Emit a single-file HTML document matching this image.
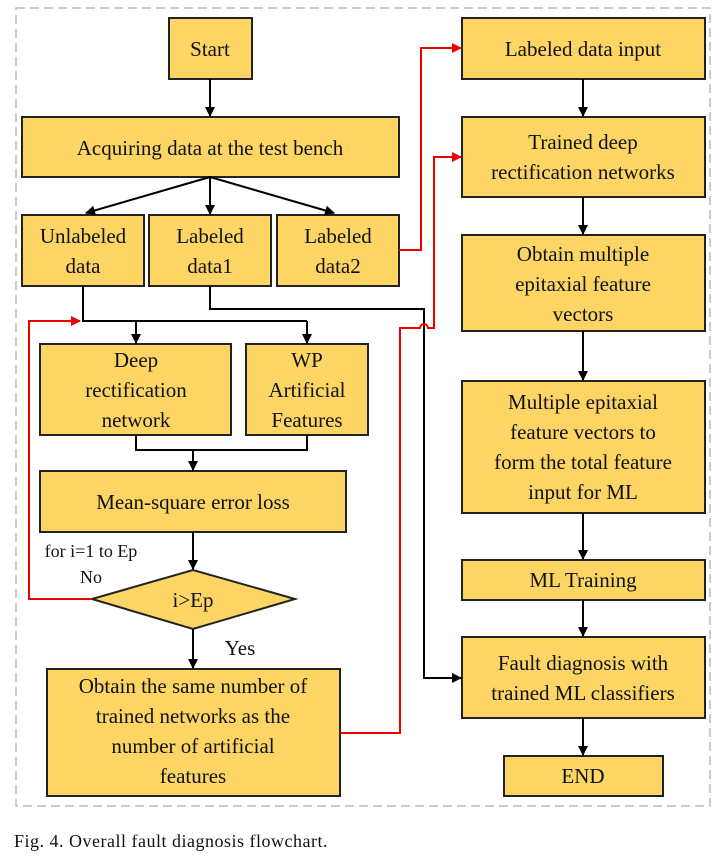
<!DOCTYPE html>
<html><head><style>body{margin:0;background:#fff}svg{display:block}</style></head><body>
<svg width="723" height="858" viewBox="0 0 723 858" xmlns="http://www.w3.org/2000/svg" font-family="Liberation Serif, serif" font-size="21" text-anchor="middle">
<defs>
<marker id="a" markerWidth="10" markerHeight="10" refX="9" refY="5" orient="auto" markerUnits="userSpaceOnUse"><path d="M0,0 L10,5 L0,10 z" fill="#000"/></marker>
<marker id="r" markerWidth="10" markerHeight="10" refX="9" refY="5" orient="auto" markerUnits="userSpaceOnUse"><path d="M0,0 L10,5 L0,10 z" fill="#e00"/></marker>
</defs>
<rect x="16" y="8" width="694" height="798" fill="none" stroke="#bbb" stroke-width="1.5" stroke-dasharray="9,5"/>
<g fill="#fcd565" stroke="#222" stroke-width="2">
<rect x="169" y="18" width="83" height="61"/>
<rect x="22" y="117" width="377" height="60"/>
<rect x="22" y="215" width="122" height="71"/>
<rect x="149" y="215" width="122" height="71"/>
<rect x="277" y="215" width="122" height="71"/>
<rect x="40" y="344" width="191" height="91"/>
<rect x="246" y="344" width="122" height="91"/>
<rect x="40" y="471" width="306" height="61"/>
<polygon points="92,599 193,570 295,599 193,629"/>
<rect x="47" y="669" width="293" height="127"/>
<rect x="462" y="18" width="243" height="61"/>
<rect x="462" y="117" width="243" height="80"/>
<rect x="462" y="235" width="243" height="96"/>
<rect x="462" y="381" width="243" height="132"/>
<rect x="462" y="560" width="243" height="40"/>
<rect x="462" y="637" width="243" height="81"/>
<rect x="504" y="756" width="159" height="40"/>
</g>
<g stroke="#000" stroke-width="2" fill="none">
<line x1="210" y1="79" x2="210" y2="116" marker-end="url(#a)"/>
<line x1="210" y1="177" x2="86" y2="213" marker-end="url(#a)"/>
<line x1="210" y1="177" x2="210" y2="214" marker-end="url(#a)"/>
<line x1="210" y1="177" x2="334" y2="213" marker-end="url(#a)"/>
<polyline points="83,286 83,321 307,321"/>
<line x1="136" y1="321" x2="136" y2="343" marker-end="url(#a)"/>
<line x1="307" y1="321" x2="307" y2="343" marker-end="url(#a)"/>
<polyline points="136,435 136,450 307,450 307,435"/>
<line x1="193" y1="450" x2="193" y2="470" marker-end="url(#a)"/>
<line x1="193" y1="532" x2="193" y2="569" marker-end="url(#a)"/>
<line x1="193" y1="629" x2="193" y2="668" marker-end="url(#a)"/>
<polyline points="210,286 210,309 424,309 424,678 461,678" marker-end="url(#a)"/>
<line x1="583" y1="79" x2="583" y2="116" marker-end="url(#a)"/>
<line x1="583" y1="197" x2="583" y2="234" marker-end="url(#a)"/>
<line x1="583" y1="331" x2="583" y2="380" marker-end="url(#a)"/>
<line x1="583" y1="513" x2="583" y2="559" marker-end="url(#a)"/>
<line x1="583" y1="600" x2="583" y2="636" marker-end="url(#a)"/>
<line x1="583" y1="718" x2="583" y2="755" marker-end="url(#a)"/>
</g>
<g stroke="#e00" stroke-width="2" fill="none">
<polyline points="92,599 29,599 29,321 80,321" marker-end="url(#r)"/>
<polyline points="399,250 421,250 421,48 461,48" marker-end="url(#r)"/>
<path d="M340,733 L400,733 L400,328 L420,328 A4,4 0 0 1 428,328 L434,328 L434,157 L461,157" marker-end="url(#r)"/>
</g>
<g fill="#111">
<text x="210" y="56">Start</text>
<text x="210" y="155">Acquiring data at the test bench</text>
<text x="83" y="243">Unlabeled</text><text x="83" y="273">data</text>
<text x="210" y="243">Labeled</text><text x="210" y="273">data1</text>
<text x="338" y="243">Labeled</text><text x="338" y="273">data2</text>
<text x="136" y="367">Deep</text><text x="136" y="397">rectification</text><text x="136" y="427">network</text>
<text x="307" y="367">WP</text><text x="307" y="397">Artificial</text><text x="307" y="427">Features</text>
<text x="193" y="509">Mean-square error loss</text>
<text x="193" y="607">i&gt;Ep</text>
<text x="240" y="655">Yes</text>
<text x="91" y="557" font-size="18">for i=1 to Ep</text>
<text x="91" y="583" font-size="18">No</text>
<text x="193" y="693">Obtain the same number of</text>
<text x="193" y="723">trained networks as the</text>
<text x="193" y="753">number of artificial</text>
<text x="193" y="783">features</text>
<text x="583" y="56">Labeled data input</text>
<text x="583" y="149">Trained deep</text><text x="583" y="179">rectification networks</text>
<text x="583" y="261">Obtain multiple</text><text x="583" y="291">epitaxial feature</text><text x="583" y="321">vectors</text>
<text x="583" y="409">Multiple epitaxial</text><text x="583" y="439">feature vectors  to</text><text x="583" y="469">form the total feature</text><text x="583" y="499">input for ML</text>
<text x="583" y="587">ML Training</text>
<text x="583" y="670">Fault diagnosis with</text><text x="583" y="700">trained ML classifiers</text>
<text x="583" y="783">END</text>
<text x="14" y="847" text-anchor="start" font-size="18" letter-spacing="0.5">Fig. 4.    Overall fault diagnosis flowchart.</text>
</g>
</svg>
</body></html>
